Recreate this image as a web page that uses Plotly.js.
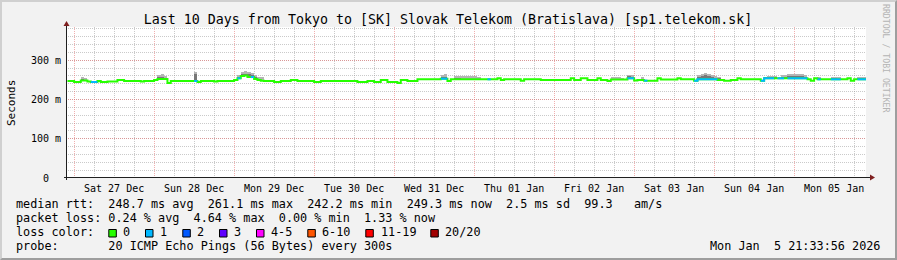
<!DOCTYPE html>
<html><head><meta charset="utf-8">
<script src="https://cdn.plot.ly/plotly-3.0.1.min.js"></script>
<style>
html,body{margin:0;padding:0;background:#f2f2f2;}
#wrap{position:relative;width:897px;height:260px;overflow:hidden;}
#chart{position:absolute;left:0;top:0;width:897px;height:260px;}
#frame{position:absolute;left:0;top:0;width:897px;height:260px;box-sizing:border-box;border:2px solid;border-color:#d0d0d0 #9e9e9e #9e9e9e #d0d0d0;pointer-events:none;}
</style></head><body>
<div id="wrap"><div id="chart"></div><div id="frame"></div></div>
<script>
// ---------------- data (hourly, starting 2025-12-26 22:00) ----------------
const medianMs = [
 247,247,244.5,244.5,248.3,248.3,245.8,244.5,244.5,247,
 244.5,244.5,245.8,245.8,245.8,249.6,249.6,247,247,247,
 247,247,245.8,247,247,247,249.6,252,252,252,
 242,247,247,247,247,247,247,247,247,244.5,
 247,247,247,247,245.8,247,247,247,247,247,
 249.6,254,259.7,261.1,257,257,252,249.6,247.8,247,
 247,247,244.5,244.5,247,247,247,249.6,249.6,247,
 247,247,247,247,244.5,244.5,247,247,247,247,
 247,247,247,247,247,247,247,244.5,244.5,244.5,
 247,247,244.5,244.5,249.6,249.6,244.5,244.5,244.5,242,
 249.6,249.6,247,247,247,251.3,251.3,251.3,251.3,251.3,
 251.3,251.3,252.9,252.9,247,251.3,251.3,251.3,251.3,251.3,
 251.3,251.3,251.3,251.3,251.3,251.3,251.3,251.3,251.3,253.9,
 249.6,251.3,251.3,251.3,251.3,251.3,247.8,251.3,251.3,251.3,
 251.3,251.3,249.6,249.6,249.6,249.6,249.6,249.6,249.6,249.6,
 249.6,253.9,249.6,249.6,253.9,253.9,249.6,249.6,249.6,253.9,
 249.6,249.6,247,250.5,250.5,250.5,250.5,250.5,253.9,253.9,
 248.3,249.6,249.6,247.8,247.8,247.8,247.8,253.9,250.5,250.5,
 250.5,250.5,250.5,253.9,251.3,251.3,251.3,251.3,247.8,251.3,
 251.3,251.3,251.3,251.3,251.3,249.6,249.6,247.8,247.8,249.6,
 249.6,253.9,251.3,251.3,251.3,251.3,251.3,251.3,247.8,253.9,
 253.9,253.9,253.9,253.9,253.9,253.9,253.9,253.9,253.9,253.9,
 253.9,253.9,251.3,247.8,253.9,251.3,251.3,251.3,251.3,251.3,
 251.3,251.3,251.3,251.3,253.9,247.8,251.3,251.3,251.3,251.3
];
const lossHours = [7,8,38,51,55,112,113,126,168,169,173,188,189,190,191,192,193,194,
 208,209,210,211,213,214,216,217,218,219,220,221,225,229,230,231,237,238,239];
const smokeHour = [4,5,27,28,29,38,51,52,53,54,55,56,57,58,112,113,116,117,118,119,120,121,122,123,
 163,164,165,166,168,169,172,189,190,191,192,193,194,195,209,210,211,212,214,215,216,217,218,219,220,221,
 225,229,230,231,237,238,239];
const smokeTop = [257,255,262,265,260,271,262,270,272,270,268,263,258,256,262,265,259,259,259,259,259,259,259,258,
 257,257,256,255,263,262,257,262,266,268,266,262,259,258,258,260,260,259,262,262,264,265,265,266,264,262,
 257,257,257,256,257,257,256];
const smokeMid = [252,250,256,258,255,265,257,264,266,266,263,258,252,250,256,257,254,254,253,253,253,253,253,253,
 253,253,253,252,259,258,252,256,260,263,261,257,255,254,256,257,257,256,258,258,259,260,261,260,259,257,
 254,254,254,253,254,254,253];
const rttStats = ['248.7','261.1','242.2','249.3','2.5','99.3'];
const lossStats = ['0.24','4.64','0.00','1.33'];
const lossLabels = ['0','1','2','3','4-5','6-10','11-19','20/20'];
const lossColors = ['#26ff00','#00b8ff','#0059ff','#5e00ff','#ff00ff','#ff5500','#ff0000','#a10000'];
const yTickVals = [0,100,200,300];
const yTickText = ['0  ','100 m','200 m','300 m'];

// ---------------- build ----------------
const FONT = 'DejaVu Sans Mono';
const T0 = Date.UTC(2025,11,26,22,0,0);
const HOUR = 3600000;
const ts = ms => new Date(ms).toISOString().replace('T',' ').slice(0,19);
const xH = h => ts(T0 + h*HOUR);
const nb = s => s.replace(/ /g,'\u00a0');

const mx=[], my=[];
for (let h=0; h<medianMs.length; h++){ mx.push(xH(h)); my.push(medianMs[h]); }
mx.push(xH(medianMs.length)); my.push(medianMs[medianMs.length-1]);

const lossSet = new Set(lossHours);
const lx=[], ly=[];
let h=0;
while (h < medianMs.length){
  if (lossSet.has(h)){
    const s=h; while (lossSet.has(h)) h++;
    for (let k=s;k<h;k++){ lx.push(xH(k)); ly.push(medianMs[k]); }
    lx.push(xH(h)); ly.push(medianMs[h-1]);
    lx.push(xH(h)); ly.push(null);
  } else h++;
}

const sx = smokeHour.map(h => ts(T0 + h*HOUR + HOUR/2));
const sBase = smokeHour.map(h => medianMs[h]-2);
const traces = [
  {type:'bar', x:sx, base:sBase, y:smokeTop.map((v,i)=>v-sBase[i]), width:smokeHour.map(()=>HOUR),
   marker:{color:'#b4b4b4', line:{width:0}}, hoverinfo:'skip'},
  {type:'bar', x:sx, base:sBase, y:smokeMid.map((v,i)=>v-sBase[i]), width:smokeHour.map(()=>HOUR),
   marker:{color:'#777777', line:{width:0}}, hoverinfo:'skip'},
  {type:'scatter', mode:'lines', x:mx, y:my, line:{color:lossColors[0], width:2, shape:'hv'}, hoverinfo:'skip'},
  {type:'scatter', mode:'lines', x:lx, y:ly, line:{color:lossColors[1], width:2, shape:'hv'}, connectgaps:false, hoverinfo:'skip'}
];

// pixel -> paper helpers
const L=66, T=27, W=800, H=151;
const px = X => (X-L)/W, py = Y => (T+H-Y)/H;

const shapes = [
  {type:'line', xref:'paper', yref:'paper', x0:px(66.5), x1:px(66.5), y0:py(180), y1:py(25), line:{color:'#1f1f1f', width:1}},
  {type:'line', xref:'paper', yref:'paper', x0:px(64), x1:px(870), y0:py(177.5), y1:py(177.5), line:{color:'#1f1f1f', width:1}},
  {type:'path', xref:'paper', yref:'paper', path:`M${px(66.5)},${py(21)} L${px(63.5)},${py(26)} L${px(69.5)},${py(26)} Z`, fillcolor:'#7f1f1f', line:{width:0}},
  {type:'path', xref:'paper', yref:'paper', path:`M${px(875)},${py(177.5)} L${px(870)},${py(174.5)} L${px(870)},${py(180.5)} Z`, fillcolor:'#7f1f1f', line:{width:0}}
];
const swatchX = [108.3,145,182.3,219,256,307.3,365.3,430.3];
const labelX  = [123.3,160,197.3,234,271,322.3,380.7,445.3];
lossColors.forEach((c,i)=>{
  shapes.push({type:'rect', xref:'paper', yref:'paper', x0:px(swatchX[i]+0.5), x1:px(swatchX[i]+8), y0:py(229.5), y1:py(237),
    fillcolor:c, line:{color:'#000', width:1}});
});

const LF = 11.8;
const ann = (text, X, Y, opts={}) => Object.assign({text:nb(text), xref:'paper', yref:'paper', x:px(X), y:py(Y),
  xanchor:'left', yanchor:'middle', showarrow:false, borderpad:0, borderwidth:0,
  font:{family:FONT, size:LF, color:'#000'}}, opts);
const annotations = [
  ann(`median rtt:  ${rttStats[0]} ms avg  ${rttStats[1]} ms max  ${rttStats[2]} ms min  ${rttStats[3]} ms now  ${rttStats[4]} ms sd  ${rttStats[5]}   am/s`, 16, 204),
  ann(`packet loss: ${lossStats[0]} % avg  ${lossStats[1]} % max  ${lossStats[2]} % min  ${lossStats[3]} % now`, 16, 218),
  ann('loss color:', 16, 232),
  ann('probe:       20 ICMP Echo Pings (56 Bytes) every 300s', 16, 246),
  ann('Mon Jan  5 21:33:56 2026', 880, 246, {xanchor:'right'}),
  ann('Seconds', 11, 103, {xanchor:'center', textangle:-90, font:{family:FONT, size:11, color:'#000'}}),
  ann('RRDTOOL / TOBI OETIKER', 886, 59, {xanchor:'center', textangle:90, font:{family:FONT, size:8.2, color:'#b4b4b4'}})
];
lossLabels.forEach((t,i)=> annotations.push(ann(t, labelX[i], 232)));

const layout = {
  width:897, height:260,
  paper_bgcolor:'#f2f2f2', plot_bgcolor:'#ffffff',
  margin:{l:L, r:897-L-W, t:T, b:260-T-H, pad:0},
  font:{family:FONT, size:10, color:'#000'},
  showlegend:false, barmode:'overlay', bargap:0,
  title:{text:'Last 10 Days from Tokyo to [SK] Slovak Telekom (Bratislava) [sp1.telekom.sk]',
    x:448/897, xref:'container', xanchor:'center', y:1-19.5/260, yref:'container', yanchor:'middle',
    font:{family:FONT, size:13.3, color:'#000'}},
  xaxis:{type:'date', range:['2025-12-26 21:33:56','2026-01-05 21:33:56'],
    tickformat:'%a %d %b', ticklabelmode:'period', dtick:86400000, tick0:'2025-12-27 00:00:00',
    ticks:'', showline:false, zeroline:false,
    showgrid:true, gridcolor:'rgba(230,110,110,0.55)', griddash:'1px,1px', gridwidth:1,
    minor:{dtick:6*3600000, showgrid:true, gridcolor:'rgba(150,150,150,0.5)', griddash:'1px,1px', gridwidth:1},
    ticklabelstandoff:3,
    tickfont:{family:FONT, size:10, color:'#000'}, fixedrange:true},
  yaxis:{range:[0,384.5], tickvals:yTickVals, ticktext:yTickText.map(nb), ticks:'', showline:false, zeroline:false,
    showgrid:true, gridcolor:'rgba(230,110,110,0.55)', griddash:'1px,1px', gridwidth:1,
    minor:{dtick:20, tick0:0, showgrid:true, gridcolor:'rgba(150,150,150,0.5)', griddash:'1px,1px', gridwidth:1},
    ticklabelstandoff:4,
    tickfont:{family:FONT, size:10, color:'#000'}, fixedrange:true},
  shapes, annotations
};
Plotly.newPlot('chart', traces, layout, {staticPlot:true, displayModeBar:false});
</script>
</body></html>
